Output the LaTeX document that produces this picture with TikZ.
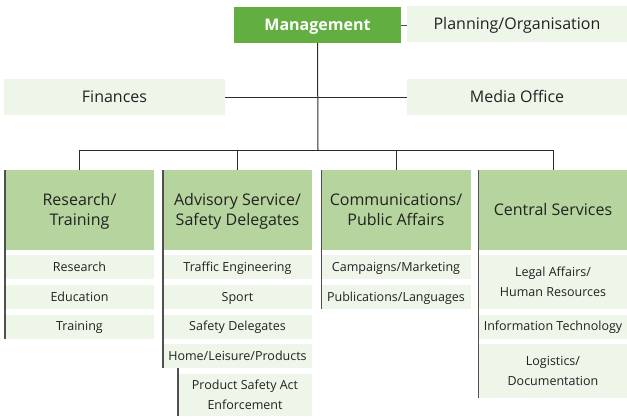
\documentclass[tikz,border=0pt]{standalone}
\usepackage{fontspec}
\setmainfont{Open Sans}
\definecolor{mgreen}{HTML}{62AE41}
\definecolor{hgreen}{HTML}{B5D49E}
\definecolor{lgreen}{HTML}{EEF5E9}
\definecolor{txt}{HTML}{222222}
\definecolor{ln}{HTML}{2B2B2B}
\definecolor{bar}{HTML}{505050}
\begin{document}
\begin{tikzpicture}[x=1pt,y=-1pt,
  base/.style={inner sep=0pt,outer sep=0pt,align=center,text=txt,text depth=0pt},
  topbox/.style={base,fill=lgreen,minimum width=221pt,minimum height=36pt,font=\fontsize{16}{20}\selectfont,text height=11.4pt},
  mgmtbox/.style={base,fill=mgreen,text=white,minimum width=167pt,minimum height=36pt,font=\fontsize{16}{20}\selectfont\bfseries,text height=11.4pt},
  headbox/.style={base,fill=hgreen,minimum width=149pt,minimum height=80pt,font=\fontsize{16}{20}\selectfont,text height=11.4pt},
  subbox/.style={base,fill=lgreen,minimum width=149pt,minimum height=24pt,font=\fontsize{12.5}{19.5}\selectfont,text height=8.9pt},
  twohead/.style={text height=31.4pt},
  twosub/.style={text height=28.4pt},
  conn/.style={draw=ln,line width=1pt},
  barline/.style={draw=bar,line width=1.4pt}]
\useasboundingbox (0,0) rectangle (627,416);
% top level
\node[mgmtbox] (mgmt) at (317.5,25) {Management};
\node[topbox] (plan) at (517,24) {Planning/Organisation};
\node[topbox] (fin) at (114.5,97) {Finances};
\node[topbox] (media) at (517,97) {Media Office};
% headers
\node[headbox,twohead] (h1) at (79.5,210) {Research/\\Training};
\node[headbox,twohead] (h2) at (237.5,210) {Advisory Service/\\Safety Delegates};
\node[headbox,twohead] (h3) at (396,210) {Communications/\\Public Affairs};
\node[headbox] (h4) at (553,210) {Central Services};
% research
\node[subbox] (r1) at (79.5,267) {Research};
\node[subbox] (r2) at (79.5,297) {Education};
\node[subbox] (r3) at (79.5,326.5) {Training};
% advisory
\node[subbox] (a1) at (237.5,267) {Traffic Engineering};
\node[subbox] (a2) at (237.5,297) {Sport};
\node[subbox] (a3) at (237.5,326.5) {Safety Delegates};
\node[subbox] (a4) at (237.5,356) {Home/Leisure/Products};
\node[subbox,twosub,minimum width=134pt,minimum height=42pt] (a5) at (245,395) {Product Safety Act\\Enforcement};
% communications
\node[subbox] (c1) at (396,267) {Campaigns/Marketing};
\node[subbox] (c2) at (396,297) {Publications/Languages};
% central
\node[subbox,twosub,minimum height=54pt] (s1) at (553,282) {Legal Affairs/\\Human Resources};
\node[subbox] (s2) at (553,326.5) {Information Technology};
\node[subbox,twosub,minimum height=54pt] (s3) at (553,371) {Logistics/\\Documentation};
% connectors
\coordinate (bus) at (318,150);
\draw[conn,draw=bar] (mgmt.east) -- (mgmt.east -| plan.west);
\draw[conn] (fin.east) -- (media.west);
\draw[conn] (mgmt.south) -- (bus);
\draw[conn] (h1.north) |- (bus);
\draw[conn] (h2.north) |- (bus);
\draw[conn] (h3.north) |- (bus);
\draw[conn] (h4.north) |- (bus);
% left bars
\draw[barline] (h1.north west) -- (h1.north west |- r3.south);
\draw[barline] (h2.north west) -- (h2.north west |- a4.south);
\draw[barline] (h3.north west) -- (h3.north west |- c2.south);
\draw[barline] (h4.north west) -- (h4.north west |- s3.south);
\draw[barline] (a5.west |- a4.south) -- (a5.south west);
\end{tikzpicture}
\end{document}
